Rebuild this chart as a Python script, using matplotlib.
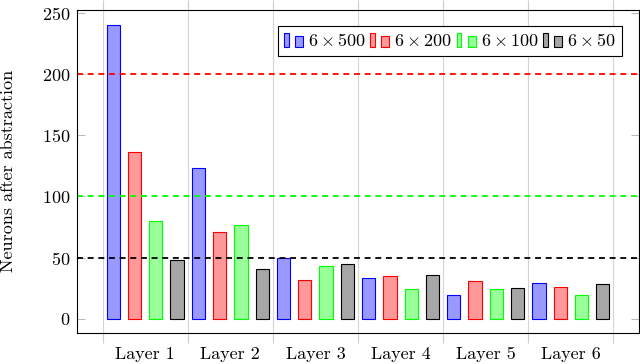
import numpy as np
import matplotlib
matplotlib.use("Agg")
import matplotlib.pyplot as plt
from matplotlib.patches import Rectangle
from matplotlib.legend_handler import HandlerBase

plt.rcParams['font.family'] = ['cmr10', 'DejaVu Serif']
plt.rcParams['mathtext.fontset'] = 'cm'
plt.rcParams['axes.formatter.use_mathtext'] = True

layers = ["Layer 1", "Layer 2", "Layer 3", "Layer 4", "Layer 5", "Layer 6"]
series_names = [r"$6\times 500$", r"$6\times 200$", r"$6\times 100$", r"$6\times 50$"]
v500 = [240, 123, 50, 33, 19, 29]
v200 = [136, 71, 32, 35, 31, 26]
v100 = [80, 77, 43, 24, 24, 19]
v50 = [48, 41, 45, 36, 25, 28]
thresholds = [200, 100, 50]

fills = ["#9999ff", "#ff9999", "#99ff99", "#a6a6a6"]
edges = ["#0000ff", "#ff0000", "#00ff00", "#000000"]
thr_colors = ["#ff0000", "#00ff00", "#000000"]

FS = 13

fig = plt.figure(figsize=(6.4, 3.64), dpi=100)
ax = fig.add_axes([0.1203, 0.086, 0.8781, 0.8865])

x = np.arange(1, len(layers) + 1)
width = 0.156
step = 0.25
offsets = [-1.5 * step, -0.5 * step, 0.5 * step, 1.5 * step]
handles = []
for vals, off, fc, ec, name in zip([v500, v200, v100, v50], offsets, fills, edges, series_names):
    b = ax.bar(x + off, vals, width=width, facecolor=fc, edgecolor=ec, linewidth=0.8, zorder=2, label=name)
    handles.append(b)

for t, c in zip(thresholds, thr_colors):
    ax.axhline(t, color=c, linewidth=1.3, dashes=(3.3, 2.6), zorder=3)

ax.set_xlim(0.2, 6.8)
ax.set_ylim(-11.5, 252.5)
ax.set_yticks([0, 50, 100, 150, 200, 250])
ax.set_xticks(x)
ax.set_xticklabels(layers)
ax.set_xticks(np.arange(0.5, 7.0, 1.0), minor=True)
ax.tick_params(axis='x', which='major', length=0, pad=10, labelsize=FS)
ax.tick_params(axis='x', which='minor', direction='out', length=7, color='#cccccc', width=0.8, top=True, bottom=True)
ax.tick_params(axis='y', which='major', direction='in', length=6, color='#bbbbbb', width=0.8, left=True, right=True, labelsize=FS, pad=5)
ax.grid(which='minor', axis='x', color='#d4d4d4', linewidth=0.8, zorder=0)
ax.set_axisbelow(True)
for s in ax.spines.values():
    s.set_linewidth(0.8)
    s.set_color('black')
    s.set_zorder(4)

ax.set_ylabel("Neurons after abstraction", fontsize=FS)
ax.yaxis.set_label_coords(-0.1085, 0.5)


class TwoBarHandler(HandlerBase):
    def create_artists(self, legend, orig_handle, xdescent, ydescent, width, height, fontsize, trans):
        patch = orig_handle.patches[0]
        fc = patch.get_facecolor()
        ec = patch.get_edgecolor()
        h = height * 1.12
        y0 = -ydescent - 0.05 * height
        r1 = Rectangle((-xdescent, y0), width * 0.25, h, facecolor=fc, edgecolor=ec, linewidth=0.8, transform=trans)
        r2 = Rectangle((-xdescent + width * 0.59, y0), width * 0.41, h * 0.76, facecolor=fc, edgecolor=ec, linewidth=0.8, transform=trans)
        return [r1, r2]


leg = ax.legend(handles=handles, labels=series_names, ncol=4, loc='upper right',
                bbox_to_anchor=(0.970, 0.950), fontsize=FS, frameon=True, fancybox=False,
                edgecolor='black', framealpha=1, handlelength=1.05, handletextpad=0.28,
                columnspacing=0.25, borderpad=0.35, borderaxespad=0.0,
                handler_map={type(handles[0]): TwoBarHandler()})
leg.get_frame().set_linewidth(0.8)
leg.set_zorder(5)

fig.savefig("out.png", dpi=100)
